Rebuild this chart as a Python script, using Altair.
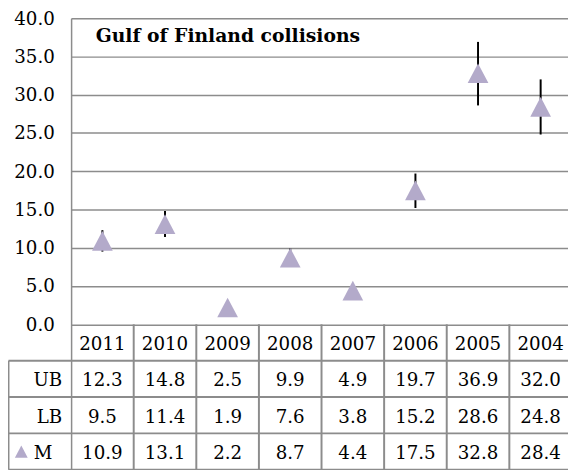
import altair as alt
import pandas as pd

# ---- data ----
years = ["2011", "2010", "2009", "2008", "2007", "2006", "2005", "2004"]
ub = [12.3, 14.8, 2.5, 9.9, 4.9, 19.7, 36.9, 32.0]
lb = [9.5, 11.4, 1.9, 7.6, 3.8, 15.2, 28.6, 24.8]
m = [10.9, 13.1, 2.2, 8.7, 4.4, 17.5, 32.8, 28.4]
y_ticks = [0, 5, 10, 15, 20, 25, 30, 35, 40]
row_labels = ["UB", "LB"]
m_label = "M"
title_text = "Gulf of Finland collisions"

# ---- styling / layout ----
FONT = "DejaVu Serif"
FS = 18.5
LINE = "#8c8c8c"
MARKER = "#B3AACA"
COL_W = 63.5          # pixels per column
PLOT_W = 504
ROW_H = 4.75          # table row height in y units
Y_MIN = -4 * ROW_H
TRI = "M0,-0.95L1,0.95L-1,0.95Z"

x_scale = alt.Scale(domain=[0, PLOT_W / COL_W], nice=False, zero=False)
y_scale = alt.Scale(domain=[Y_MIN, 40], nice=False, zero=False)
y_axis = alt.Axis(values=y_ticks, format=".1f", grid=True, gridColor=LINE,
                  gridWidth=1.5, domain=True, domainColor=LINE, domainWidth=1.5,
                  ticks=False, labelFont=FONT, labelFontSize=FS, labelColor="black",
                  labelPadding=17, title=None)

def X(f):
    return alt.X(f, type="quantitative", scale=x_scale, axis=None)

def Y(f):
    return alt.Y(f, type="quantitative", scale=y_scale, axis=y_axis)

n = len(years)
pts = pd.DataFrame({"year": years, "ub": ub, "lb": lb, "m": m,
                    "xc": [i + 0.5 for i in range(n)]})

lines = []
for k in range(1, 5):
    lines.append({"x": -1, "x2": n, "y": -k * ROW_H, "y2": -k * ROW_H})
for i in range(1, n):
    lines.append({"x": i, "x2": i, "y": 0, "y2": Y_MIN})
lines.append({"x": -1, "x2": -1, "y": -ROW_H, "y2": Y_MIN})
lines_df = pd.DataFrame(lines)

cells = []
for i, yr in enumerate(years):
    cells.append({"x": i + 0.5, "y": -0.5 * ROW_H, "t": yr})
for r, series in enumerate([ub, lb, m]):
    for i, v in enumerate(series):
        cells.append({"x": i + 0.5, "y": -(1.5 + r) * ROW_H, "t": f"{v:.1f}"})
cells_df = pd.DataFrame(cells)

labels_df = pd.DataFrame({"x": [0, 0], "y": [-1.5 * ROW_H, -2.5 * ROW_H], "t": row_labels})
mlab_df = pd.DataFrame({"x": [0], "y": [-3.5 * ROW_H], "t": [m_label]})
key_df = pd.DataFrame({"x": [-1], "y": [-3.5 * ROW_H]})
title_df = pd.DataFrame({"x": [0.394], "y": [37.6], "t": [title_text]})

err = alt.Chart(pts).mark_rule(color="black", strokeWidth=2).encode(
    x=X("xc"), y=Y("lb"), y2="ub")

points = alt.Chart(pts).mark_point(shape=TRI, size=441, filled=True, opacity=1,
                                   color=MARKER, strokeWidth=0).encode(
    x=X("xc"), y=Y("m"))

grid_lines = alt.Chart(lines_df).mark_rule(color=LINE, strokeWidth=2).encode(
    x=X("x"), x2="x2", y=Y("y"), y2="y2")

cell_text = alt.Chart(cells_df).mark_text(font=FONT, fontSize=FS, color="black",
                                          align="center", baseline="middle", dy=1.5).encode(
    x=X("x"), y=Y("y"), text="t:N")

row_text = alt.Chart(labels_df).mark_text(font=FONT, fontSize=FS, color="black",
                                          align="right", baseline="middle", dx=-9, dy=1.5).encode(
    x=X("x"), y=Y("y"), text="t:N")

m_text = alt.Chart(mlab_df).mark_text(font=FONT, fontSize=FS, color="black",
                                      align="right", baseline="middle", dx=-19, dy=1.5).encode(
    x=X("x"), y=Y("y"), text="t:N")

key = alt.Chart(key_df).mark_point(shape=TRI, size=169, filled=True, opacity=1,
                                   color=MARKER, strokeWidth=0, xOffset=13).encode(
    x=X("x"), y=Y("y"))

title = alt.Chart(title_df).mark_text(font=FONT, fontSize=19, fontWeight="bold",
                                      color="black", align="left", baseline="middle").encode(
    x=X("x"), y=Y("y"), text="t:N")

chart = alt.layer(grid_lines, err, points, cell_text, row_text, m_text,
                  key, title).properties(
    width=PLOT_W, height=458,
    autosize=alt.AutoSizeParams(type="none"),
    padding={"left": 64, "top": 7, "right": 0, "bottom": 0},
).configure_view(stroke=None).configure(background="white")

chart.save("out.html", embed_options={"renderer": "svg", "actions": False})
